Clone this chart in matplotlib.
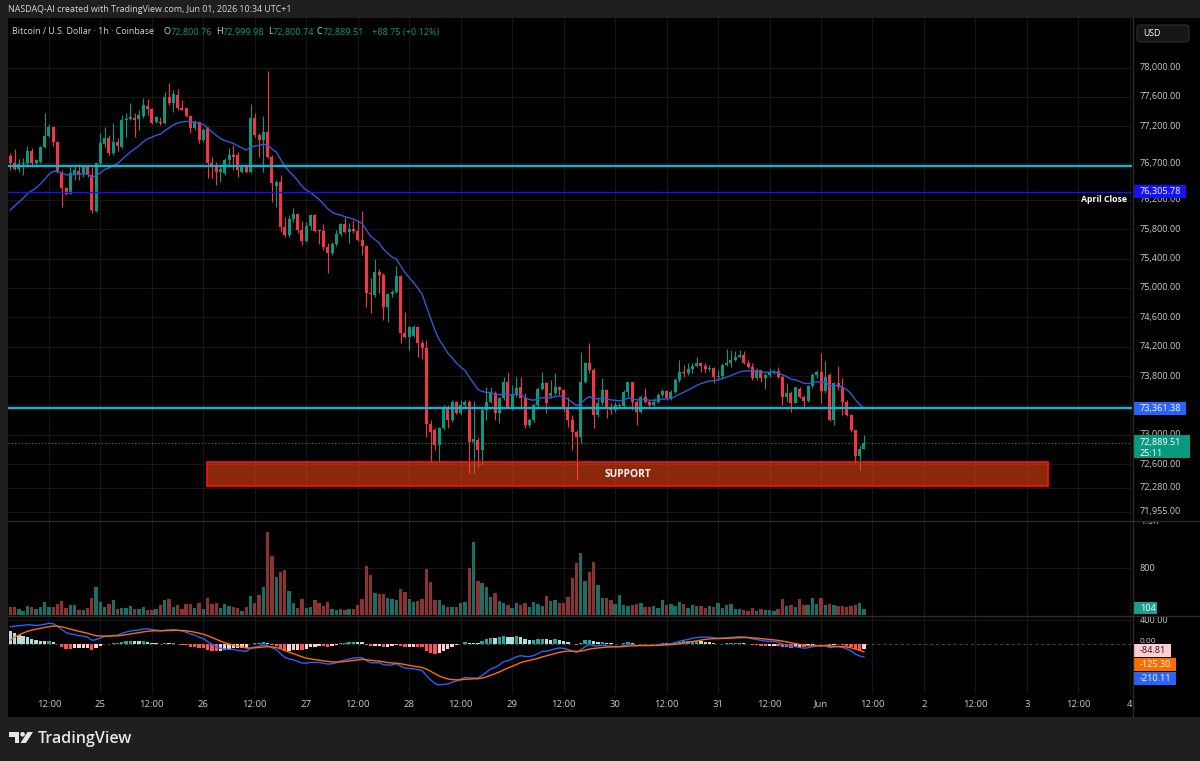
import numpy as np
import matplotlib.pyplot as plt
from matplotlib.patches import Rectangle, FancyBboxPatch, Polygon, Circle
from matplotlib.lines import Line2D
from matplotlib.transforms import Affine2D

plt.rcParams['font.family'] = ['Open Sans', 'DejaVu Sans']

# BTC/USD 1h, Coinbase - first visible bar is May 24 03:00
first_hour = 3

opens = [
    76790, 76695, 76625, 76690, 76700, 76870, 76695, 76720, 76915, 77070,
    77195, 76990, 76580, 76355, 76285, 76540, 76585, 76560, 76650, 76540,
    76050, 76695, 76960, 77035, 76830, 76990, 76915, 77280, 77295, 77310,
    77295, 77340, 77475, 77430, 77265, 77265, 77240, 77605, 77515, 77625,
    77445, 77445, 77340, 77170, 77265, 77015, 77170, 76695, 76660, 76580,
    76560, 76740, 76810, 76810, 76580, 76640, 76580, 77310, 77080, 77020,
    77125, 76785, 76390, 76445, 75835, 75720, 75935, 76005, 75790, 75645,
    75845, 75990, 75780, 75770, 75560, 75470, 75600, 75735, 75870, 75765,
    75795, 75780, 75650, 75570, 74935, 74900, 75210, 75175, 74735, 74915,
    74950, 75160, 74390, 74335, 74345, 74465, 74245, 74180, 73145, 73065,
    72860, 73090, 73385, 73200, 73450, 73295, 73405, 73445, 72905, 72930,
    72795, 73340, 73450, 73565, 73295, 73495, 73725, 73385, 73540, 73655,
    73495, 73135, 73200, 73405, 73620, 73710, 73530, 73565, 73655, 73610,
    73380, 73200, 73045, 72975, 73725, 73975, 73880, 73270, 73430, 73610,
    73385, 73340, 73395, 73395, 73585, 73715, 73450, 73315, 73520, 73450,
    73410, 73450, 73540, 73590, 73495, 73585, 73745, 73860, 73835, 73890,
    73935, 73975, 73935, 73890, 73905, 73790, 73805, 73950, 73975, 74020,
    74065, 74090, 73975, 73920, 73770, 73880, 73770, 73815, 73860, 73870,
    73790, 73520, 73565, 73440, 73630, 73520, 73465, 73665, 73815, 73860,
    73590, 73815, 73205, 73700, 73655, 73450, 73270, 73060, 72705, 72800.76,
]
highs = [
    76840, 76885, 76750, 76765, 76930, 76900, 76760, 76930, 77375, 77230,
    77205, 77000, 76605, 76380, 76650, 76675, 76685, 76675, 76675, 76650,
    76705, 77115, 77195, 77080, 77240, 77035, 77355, 77375, 77515, 77385,
    77420, 77580, 77565, 77445, 77340, 77330, 77660, 77785, 77695, 77705,
    77560, 77455, 77355, 77280, 77275, 77170, 77195, 76785, 76720, 76675,
    76765, 76900, 76945, 76855, 76675, 76675, 77505, 77375, 77105, 77340,
    77955, 76810, 76470, 76535, 75970, 75995, 76085, 76025, 75915, 75900,
    76000, 76000, 75790, 75870, 75605, 75630, 75790, 75890, 75970, 75880,
    75925, 75915, 76045, 75585, 75130, 75390, 75255, 75200, 74925, 74970,
    75300, 75175, 74675, 74480, 74495, 74480, 74290, 74290, 73200, 73090,
    73110, 73405, 73405, 73475, 73465, 73475, 73475, 73475, 73465, 72975,
    73360, 73655, 73655, 73590, 73520, 73790, 73860, 73680, 73790, 73790,
    73565, 73225, 73430, 73655, 73860, 73725, 73745, 73835, 73665, 73630,
    73520, 73270, 73065, 74130, 73995, 74255, 73905, 73520, 73770, 73630,
    73430, 73450, 73430, 73610, 73725, 73725, 73475, 73540, 73635, 73475,
    73500, 73565, 73630, 73610, 73610, 73770, 74020, 73950, 73975, 73980,
    74055, 73995, 73980, 73950, 73925, 73880, 73975, 74175, 74155, 74135,
    74155, 74135, 74020, 73975, 73905, 73880, 73840, 73905, 73880, 73930,
    73815, 73700, 73590, 73655, 73655, 73545, 73680, 73840, 73880, 74120,
    74010, 73840, 73725, 73935, 73770, 73475, 73290, 73065, 72860, 72999.98,
]
lows = [
    76605, 76605, 76580, 76535, 76650, 76650, 76680, 76705, 76900, 77050,
    76925, 76560, 76105, 76265, 76275, 76470, 76470, 76515, 76515, 76015,
    76040, 76675, 76915, 76810, 76810, 76870, 76900, 77060, 77285, 77060,
    77150, 77310, 77355, 77230, 77240, 77220, 77230, 77490, 77400, 77420,
    77415, 77330, 77115, 77150, 76970, 76990, 76490, 76490, 76400, 76445,
    76535, 76640, 76605, 76515, 76560, 76560, 76560, 77060, 76785, 76580,
    76765, 76175, 76105, 75765, 75690, 75690, 75900, 75745, 75585, 75630,
    75790, 75765, 75600, 75515, 75200, 75450, 75570, 75705, 75745, 75605,
    75750, 75645, 75450, 74745, 74655, 74870, 74925, 74565, 74540, 74880,
    74925, 74245, 74315, 74155, 74335, 74055, 74030, 72965, 72635, 72795,
    72635, 73065, 73090, 73180, 73285, 73270, 73385, 72475, 72475, 72565,
    72590, 73200, 73430, 73200, 73155, 73475, 73360, 73340, 73520, 73385,
    73090, 73110, 73180, 73385, 73610, 73300, 73495, 73540, 73540, 73315,
    73110, 72795, 72385, 72885, 73700, 73835, 73090, 73245, 73405, 73225,
    73290, 73315, 73370, 73385, 73520, 73340, 73135, 73295, 73430, 73380,
    73390, 73430, 73520, 73475, 73475, 73565, 73725, 73790, 73815, 73845,
    73920, 73860, 73835, 73870, 73700, 73750, 73780, 73935, 73925, 74000,
    74040, 73970, 73905, 73745, 73745, 73725, 73630, 73790, 73830, 73770,
    73405, 73450, 73315, 73430, 73495, 73360, 73450, 73635, 73770, 73430,
    73565, 73195, 73135, 73610, 73270, 73250, 73045, 72610, 72520, 72800.74,
]
closes = [
    76695, 76625, 76690, 76705, 76870, 76695, 76740, 76915, 77070, 77195,
    76990, 76580, 76355, 76285, 76560, 76605, 76540, 76650, 76540, 76060,
    76695, 76970, 77035, 76830, 76990, 76925, 77285, 77295, 77330, 77285,
    77355, 77490, 77430, 77250, 77320, 77240, 77605, 77515, 77635, 77445,
    77425, 77340, 77170, 77265, 77015, 77150, 76695, 76660, 76580, 76625,
    76740, 76810, 76785, 76605, 76650, 76580, 77310, 77080, 77020, 77125,
    76785, 76425, 76445, 75835, 75720, 75935, 76005, 75790, 75645, 75845,
    75990, 75780, 75770, 75560, 75470, 75600, 75735, 75870, 75765, 75795,
    75780, 75650, 75570, 74935, 74915, 75210, 75175, 74735, 74915, 74950,
    75160, 74390, 74335, 74470, 74465, 74245, 74180, 73145, 73045, 72860,
    73090, 73385, 73200, 73450, 73295, 73405, 73445, 72905, 72940, 72795,
    73340, 73450, 73565, 73295, 73495, 73725, 73385, 73540, 73635, 73495,
    73135, 73200, 73405, 73620, 73710, 73430, 73565, 73655, 73610, 73380,
    73200, 73045, 72975, 73725, 73975, 73880, 73270, 73430, 73610, 73385,
    73340, 73405, 73410, 73585, 73715, 73450, 73315, 73520, 73450, 73410,
    73450, 73540, 73590, 73495, 73585, 73745, 73860, 73835, 73890, 73935,
    73975, 73935, 73890, 73905, 73790, 73805, 73950, 73975, 74020, 74065,
    74090, 73975, 73920, 73770, 73880, 73770, 73815, 73860, 73870, 73790,
    73520, 73565, 73440, 73645, 73520, 73465, 73665, 73815, 73860, 73590,
    73790, 73205, 73700, 73655, 73450, 73270, 73060, 72705, 72800.76, 72889.51,
]
volumes = [
    131, 131, 97, 74, 154, 131, 97, 131, 223, 131,
    131, 188, 246, 114, 171, 171, 86, 86, 114, 297,
    485, 217, 131, 183, 251, 103, 114, 114, 148, 97,
    97, 143, 91, 91, 97, 171, 257, 280, 131, 166,
    103, 194, 194, 114, 200, 103, 291, 194, 206, 126,
    183, 154, 143, 114, 74, 131, 331, 200, 343, 474,
    1416, 1011, 645, 742, 771, 405, 200, 126, 280, 126,
    131, 257, 200, 154, 217, 103, 86, 103, 86, 103,
    108, 171, 268, 839, 679, 383, 360, 360, 291, 280,
    257, 440, 394, 274, 217, 234, 268, 788, 560, 257,
    257, 166, 131, 143, 131, 200, 217, 799, 1245, 582,
    542, 485, 303, 371, 240, 211, 171, 114, 200, 171,
    200, 131, 223, 188, 154, 320, 234, 257, 200, 200,
    303, 634, 885, 1056, 582, 731, 908, 508, 291, 291,
    257, 188, 348, 177, 160, 171, 183, 211, 131, 131,
    160, 114, 257, 171, 183, 160, 217, 188, 120, 171,
    160, 154, 126, 160, 131, 211, 114, 166, 188, 97,
    97, 86, 69, 120, 69, 97, 86, 91, 69, 108,
    280, 160, 166, 131, 268, 166, 166, 291, 188, 285,
    166, 188, 166, 154, 160, 131, 160, 177, 200, 104,
]

# indicator values at the first visible bar
ma_start = 76061
ema12_start, ema26_start = 76249, 75960
signal_start = 67
macd_tags = ['-84.81', '-125.30', '-210.11']

# drawn levels
upper_level = 76664
april_close = 76305.78
lower_level = 73361.38
support_low, support_high = 72303, 72630
support_from, support_to = 48.85, 244.9   # hours from May 24 00:00

price_ticks = [78000, 77600, 77200, 76700, 76200, 75800, 75400, 75000,
               74600, 74200, 73800, 73000, 72600, 72280, 71955]
grid_prices = price_ticks + [73400]
time_ticks = list(range(12, 265, 12))
time_labels = ['12:00', '25', '12:00', '26', '12:00', '27', '12:00', '28',
               '12:00', '29', '12:00', '30', '12:00', '31', '12:00', 'Jun',
               '12:00', '2', '12:00', '3', '12:00', '4']

UP, DN = '#089981', '#f23645'
GRID = '#161616'
LBL = '#c9cbd1'
W, H = 1200, 761


def ema(values, period, start):
    k = 2 / (period + 1)
    out = [start]
    for v in values[1:]:
        out.append(out[-1] + k * (v - out[-1]))
    return np.array(out)


o = np.array(opens)
h = np.array(highs)
l = np.array(lows)
c = np.array(closes)
v = np.array(volumes)
x = np.arange(len(c)) + first_hour
up = c >= o

ma20 = ema(closes, 20, ma_start)
macd = ema(closes, 12, ema12_start) - ema(closes, 26, ema26_start)
signal = ema(list(macd), 9, signal_start)
hist = macd - signal
hist_col = []
for i, hv in enumerate(hist):
    prev = hist[i - 1] if i else hv
    if hv >= 0:
        hist_col.append('#26a69a' if hv > prev else '#b2dfdb')
    else:
        hist_col.append('#ff5252' if hv < prev else '#ffcdd2')

fig = plt.figure(figsize=(W / 100, H / 100), dpi=100, facecolor='#1f1f1f')
px = Affine2D().scale(1 / W, -1 / H).translate(0, 1) + fig.transFigure
fig.patches.append(Rectangle((8, 18), 1192, 699, transform=px,
                             facecolor='#000000', edgecolor='none', zorder=-5))


def pane(x0, y0, x1, y1):
    a = fig.add_axes([x0 / W, 1 - y1 / H, (x1 - x0) / W, (y1 - y0) / H])
    a.set_facecolor('none')
    for s in a.spines.values():
        s.set_visible(False)
    a.set_xticks([])
    a.set_yticks([])
    return a


axp = pane(8, 18, 1132, 521)
axv = pane(8, 521, 1132, 616)
axm = pane(8, 616, 1132, 694)
rp = pane(1132, 18, 1200, 521)
rv = pane(1132, 521, 1200, 616)
rm = pane(1132, 616, 1200, 694)

xlim = (2.464, 264.5)
for a in (axp, axv, axm):
    a.set_xlim(*xlim)
axp.set_ylim(71827, 78674)
axv.set_ylim(-17, 1610)
axm.set_ylim(-835, 468)
for r, a in ((rp, axp), (rv, axv), (rm, axm)):
    r.set_xlim(0, 68)
    r.set_ylim(*a.get_ylim())

# grid
for t in time_ticks:
    for a in (axp, axv, axm):
        a.axvline(t, color=GRID, lw=0.8, zorder=0)
for p in grid_prices:
    axp.axhline(p, color=GRID, lw=0.8, zorder=0)
axv.axhline(800, color=GRID, lw=0.8, zorder=0)
axm.axhline(400, color=GRID, lw=0.8, zorder=0)
axm.axhline(0, color='#4a4a4a', lw=0.7, ls=(0, (3, 3)), zorder=0)

# candles
cols = np.where(up, UP, DN)
axp.vlines(x, l, h, colors=cols, lw=0.8, zorder=2)
axp.bar(x, np.maximum(np.abs(c - o), 14), bottom=np.minimum(o, c), width=0.7,
        color=cols, lw=0, zorder=3)
axp.plot(x, ma20, color='#2f5bd8', lw=1, zorder=4)

# levels
axp.axhline(upper_level, color='#00bcd4', lw=1.6, zorder=5)
axp.axhline(lower_level, color='#00bcd4', lw=1.6, zorder=5)
axp.axhline(april_close, color='#1414f0', lw=1, zorder=5)
axp.axhline(c[-1], color=UP, lw=0.8, ls=(0, (1, 2)), zorder=1)
axp.text(263.3, 76210, 'April Close', color='white', fontsize=6.3,
         fontweight='bold', ha='right', va='center', zorder=6)

axp.add_patch(Rectangle((support_from, support_low), support_to - support_from,
                        support_high - support_low, facecolor='#ff4a14', alpha=0.55,
                        edgecolor='none', zorder=6))
axp.add_patch(Rectangle((support_from, support_low), support_to - support_from,
                        support_high - support_low, facecolor='none',
                        edgecolor='#ff1010', lw=1.2, zorder=6))
axp.text((support_from + support_to) / 2, (support_low + support_high) / 2, 'SUPPORT',
         color='white', fontsize=7.3, fontweight='bold', ha='center', va='center', zorder=7)

# volume
axv.bar(x, v, width=0.78, color=np.where(up, '#1a6e65', '#8b3331'), lw=0)

# macd
axm.bar(x, hist, width=0.78, color=hist_col, lw=0)
axm.plot(x, macd, color='#2962ff', lw=1)
axm.plot(x, signal, color='#ff6d00', lw=1)

axm.set_xticks(time_ticks)
axm.set_xticklabels(time_labels)
axm.tick_params(axis='x', length=0, pad=4, labelsize=6.8, labelcolor=LBL)

# right scale labels
for p in price_ticks:
    rp.text(8, p, f'{p:,.2f}', color=LBL, fontsize=6.6, va='center', clip_on=True)
rv.text(8, 1600, '1.6K', color=LBL, fontsize=6.6, va='center', clip_on=True)
rv.text(8, 800, '800', color=LBL, fontsize=6.6, va='center', clip_on=True)
rm.text(8, 400, '400.00', color=LBL, fontsize=6.6, va='center', clip_on=True)
rm.text(8, 40, '0.00', color=LBL, fontsize=6.0, va='center', clip_on=True)


def tag(r, ypane, value, text, bg, fg='white', hpx=13, wpx=53, up_px=6.5):
    y0, y1 = r.get_ylim()
    per = (y1 - y0) / ypane
    r.add_patch(Rectangle((1, value - (hpx - up_px) * per), wpx, hpx * per,
                          facecolor=bg, edgecolor='none', zorder=5))
    r.text(8, value, text, color=fg, fontsize=6.6, va='center', zorder=6)
    return per


tag(rp, 503, april_close, f'{april_close:,.2f}', '#1414f0')
tag(rp, 503, lower_level, f'{lower_level:,.2f}', '#2962ff')
per_p = tag(rp, 503, c[-1], f'{c[-1]:,.2f}', UP, hpx=23, wpx=57, up_px=8)
rp.text(8, c[-1] - 11 * per_p, '25:11', color='white', fontsize=6.6, va='center', zorder=6)
tag(rv, 95, v[-1], f'{v[-1]}', '#1f9d8d', hpx=12, wpx=24)
per_m = (468 + 835) / 78
tag(rm, 78, -84.81 - 1.5 * per_m, macd_tags[0], '#ffcdd2', fg='#3a1010', wpx=38)
tag(rm, 78, -84.81 - 15.5 * per_m, macd_tags[1], '#ff6d00', wpx=43)
tag(rm, 78, -84.81 - 29.5 * per_m, macd_tags[2], '#2962ff', wpx=43)

# USD button
fig.patches.append(FancyBboxPatch((1137, 25), 52, 17, boxstyle='round,pad=0,rounding_size=3',
                                  transform=px, facecolor='#161616', edgecolor='#2e2e2e',
                                  lw=0.8))
fig.text(1143, 33.5, 'USD', transform=px, color='white', fontsize=6.3, va='center')

# separators
for yy in (521, 616):
    fig.add_artist(Line2D([8, 1200], [yy, yy], transform=px, color='#2b2b2b', lw=1))
fig.add_artist(Line2D([1132.5, 1132.5], [18, 717], transform=px, color='#2b2b2b', lw=1))

# header and legend
fig.text(8, 9, 'NASDAQ-AI created with TradingView.com, Jun 01, 2026 10:34 UTC+1',
         transform=px, color='#d6d6d6', fontsize=6.4, va='center')
fig.text(12, 32, 'Bitcoin / U.S. Dollar · 1h · Coinbase', transform=px,
         color='#d1d4dc', fontsize=6.4, va='center')
legend = [('O', opens[-1], 171), ('H', highs[-1], 223), ('L', lows[-1], 273),
          ('C', closes[-1], 323)]
for lab, val, xx in legend:
    fig.text(xx - 0.5, 32, lab, transform=px, color='#d1d4dc', fontsize=6.6,
             va='center', ha='right')
    fig.text(xx, 32, f'{val:,.2f}', transform=px, color=UP, fontsize=6.6, va='center')
chg = closes[-1] - closes[-2]
fig.text(372, 32, f'{chg:+.2f} ({chg / closes[-2] * 100:+.2f}%)', transform=px,
         color=UP, fontsize=6.6, va='center')

# TradingView logo
fig.patches.append(Polygon([(9, 732), (19, 732), (19, 743), (14.5, 743), (14.5, 736.5), (9, 736.5)],
                           transform=px, facecolor='#e6e6e6', edgecolor='none'))
fig.patches.append(Circle((22.6, 734.3), 2.3, transform=px, facecolor='#e6e6e6', edgecolor='none'))
fig.patches.append(Polygon([(27.5, 732), (33, 732), (26, 743), (20.5, 743)],
                           transform=px, facecolor='#e6e6e6', edgecolor='none'))
fig.text(38, 739, 'TradingView', transform=px, color='#e6e6e6', fontsize=11.5,
         fontweight='semibold', va='center')

fig.savefig('out.png', dpi=100, facecolor=fig.get_facecolor())
